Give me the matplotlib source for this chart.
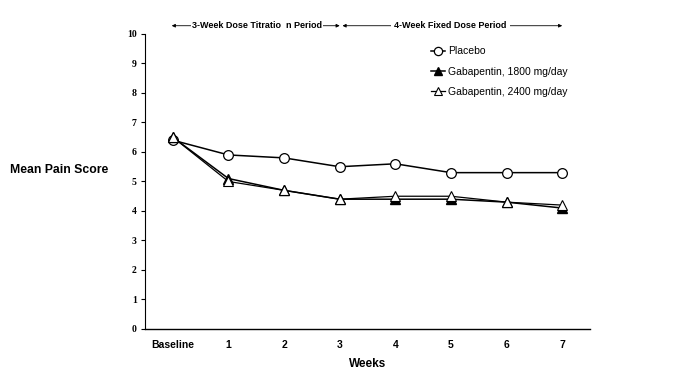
import matplotlib.pyplot as plt

plt.rcParams['font.family'] = ['Liberation Sans', 'DejaVu Sans']

# --------------------------------------------------
# Data
# --------------------------------------------------

weeks = ["Baseline", "1", "2", "3", "4", "5", "6", "7"]
placebo = [6.4, 5.9, 5.8, 5.5, 5.6, 5.3, 5.3, 5.3]
gaba_1800 = [6.5, 5.1, 4.7, 4.4, 4.4, 4.4, 4.3, 4.1]
gaba_2400 = [6.5, 5.0, 4.7, 4.4, 4.5, 4.5, 4.3, 4.2]
y_ticks = list(range(0, 11))

# --------------------------------------------------
# Figure
# --------------------------------------------------

fig = plt.figure(figsize=(6.84, 3.81), dpi=100)
ax = fig.add_axes([0.212, 0.1365, 0.6506, 0.7743])

x = list(range(len(weeks)))

ax.plot(x, placebo, color="black", lw=1.1, marker="o", ms=7,
        mfc="white", mec="black", mew=0.9, label="Placebo", zorder=3)
ax.plot(x, gaba_1800, color="black", lw=1.1, marker="^", ms=6.5,
        mfc="black", mec="black", label="Gabapentin, 1800 mg/day", zorder=4)
ax.plot(x, gaba_2400, color="black", lw=0.9, marker="^", ms=7,
        mfc="white", mec="black", mew=0.8, label="Gabapentin, 2400 mg/day", zorder=5)

ax.set_xlim(-0.5, 7.5)
ax.set_ylim(0, 10)
ax.set_xticks(x)
ax.set_xticklabels(weeks, fontsize=7.5, fontweight="bold")
ax.tick_params(axis="x", length=0, pad=8)
ax.set_yticks(y_ticks)
ax.set_yticklabels([str(v) for v in y_ticks], fontsize=7,
                   fontweight="bold", family="Liberation Serif")
ax.tick_params(axis="y", length=3, width=0.8, pad=3)

ax.spines["top"].set_visible(False)
ax.spines["right"].set_visible(False)
ax.spines["left"].set_linewidth(0.8)
ax.spines["bottom"].set_linewidth(1.0)

ax.set_xlabel("Weeks", fontsize=8.5, fontweight="bold", labelpad=6)
fig.text(0.015, 0.555, "Mean Pain Score", fontsize=8.8, fontweight="bold",
         ha="left", va="center")

# period arrows above the plot
ytop = 1.028
ax.annotate("", xy=(-0.02, ytop), xytext=(3.0, ytop),
            xycoords=("data", "axes fraction"),
            arrowprops=dict(arrowstyle="<|-|>", color="black", lw=0.6,
                            mutation_scale=5, shrinkA=0, shrinkB=0),
            annotation_clip=False)
ax.annotate("", xy=(3.05, ytop), xytext=(7.0, ytop),
            xycoords=("data", "axes fraction"),
            arrowprops=dict(arrowstyle="<|-|>", color="black", lw=0.6,
                            mutation_scale=5, shrinkA=0, shrinkB=0),
            annotation_clip=False)
ax.text(1.51, ytop, "3-Week Dose Titratio  n Period", fontsize=6.5,
        fontweight="bold", ha="center", va="center",
        transform=ax.get_xaxis_transform(),
        bbox=dict(fc="white", ec="none", pad=0.5))
ax.text(4.99, ytop, "4-Week Fixed Dose Period", fontsize=6.5,
        fontweight="bold", ha="center", va="center",
        transform=ax.get_xaxis_transform(),
        bbox=dict(fc="white", ec="none", pad=2.5))

ax.legend(loc="upper left", bbox_to_anchor=(0.622, 0.99), frameon=False,
          fontsize=7.5, handlelength=1.3, handletextpad=0.3,
          labelspacing=1.0, markerscale=0.85)

plt.savefig("out.png", dpi=100)
